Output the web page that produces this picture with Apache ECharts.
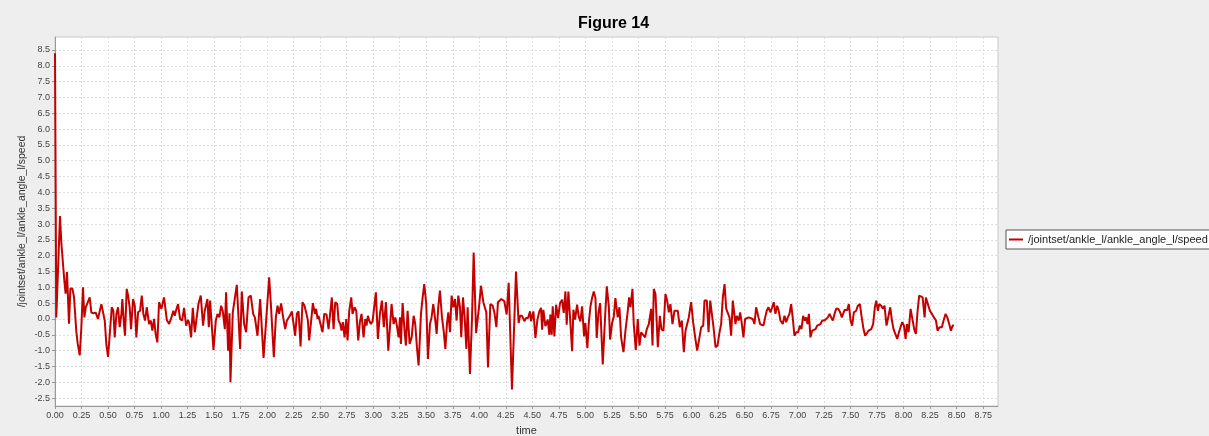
<!DOCTYPE html>
<html><head><meta charset="utf-8">
<script src="https://cdn.jsdelivr.net/npm/echarts@6/dist/echarts.min.js"></script>
<style>html,body{margin:0;padding:0;background:#eeeeee;} #c{width:1209px;height:436px;}</style>
</head><body><div id="c"></div>
<script>
const titleText = 'Figure 14';
const seriesName = '/jointset/ankle_l/ankle_angle_l/speed';
const xName = 'time';
const yName = '/jointset/ankle_l/ankle_angle_l/speed';

const times = [
0.000,0.012,0.047,0.060,0.088,0.100,0.113,0.132,0.145,0.164,0.179,0.201,0.214,0.233,0.248,0.264,
0.277,0.290,0.307,0.327,0.343,0.362,0.384,0.405,0.421,0.437,0.453,0.469,0.484,0.500,0.516,0.535,0.550,0.563,0.579,0.594,0.610,0.626,0.635,0.651,0.660,0.676,0.689,0.704,0.717,0.736,0.752,0.767,0.783,0.802,0.818,0.833,0.849,0.865,0.887,0.903,0.918,0.934,0.950,
0.965,0.981,1.003,1.028,1.054,1.076,1.098,1.116,1.129,1.142,1.160,1.179,1.198,1.217,1.236,1.255,1.267,1.283,1.299,1.318,1.333,1.352,1.374,1.396,1.412,1.437,1.450,1.462,1.494,1.516,1.532,1.550,1.566,1.582,1.601,1.613,1.632,1.645,1.654,1.676,1.714,1.745,1.761,1.783,1.802,1.824,1.846,1.868,1.884,1.909,1.934,1.966,2.019,
2.035,2.063,2.082,2.098,2.113,2.132,2.151,2.170,2.186,2.201,2.214,2.233,2.249,2.264,2.280,2.296,2.315,2.333,2.352,2.371,2.384,2.396,2.415,2.431,2.450,2.462,2.475,2.484,2.503,2.522,2.538,2.560,2.579,2.595,2.610,2.626,2.642,2.661,2.673,2.689,2.701,2.714,2.730,2.745,2.758,2.774,2.793,2.805,2.824,2.840,2.859,2.874,2.890,2.909,2.925,2.937,2.950,2.962,2.978,2.994,3.010,3.025,3.044,3.063,3.082,3.100,3.120,
3.142,3.173,3.192,3.208,3.223,3.239,3.252,3.261,3.277,3.293,3.308,3.324,3.343,3.362,3.381,3.396,3.412,3.428,3.450,3.466,3.481,3.500,3.516,3.535,3.550,3.566,3.582,3.598,3.613,3.629,3.648,3.664,3.680,3.695,3.708,3.724,3.739,3.755,3.771,3.786,3.802,3.818,3.830,3.846,3.862,3.878,3.890,3.912,3.931,3.947,3.970,3.997,4.016,4.038,4.054,4.066,4.082,4.104,4.126,4.142,4.161,4.176,4.192,4.208,
4.222,4.236,4.258,4.277,4.308,4.346,4.371,4.384,4.403,4.425,4.441,4.460,4.478,4.488,4.510,4.529,4.548,4.566,4.582,4.592,4.604,4.623,4.645,4.661,4.670,4.683,4.692,4.708,4.724,4.743,4.761,4.780,4.796,4.812,4.824,4.840,4.859,4.875,4.887,4.903,4.922,4.937,4.953,4.969,4.988,5.000,5.019,5.032,5.048,5.063,5.079,5.095,5.107,5.123,5.139,5.164,5.186,5.202,5.221,5.233,5.252,5.268,5.283,
5.305,5.321,5.337,5.359,5.378,5.400,5.412,5.425,5.444,5.456,5.475,5.494,5.510,5.526,5.541,5.563,5.579,5.598,5.620,5.633,5.645,5.661,5.683,5.702,5.717,5.736,5.755,5.771,5.787,5.802,5.821,5.840,5.856,5.871,5.890,5.909,5.928,5.944,5.960,5.975,5.997,6.016,6.035,6.054,6.073,6.092,6.111,6.123,6.145,6.161,6.177,6.192,6.208,6.227,6.246,6.262,6.280,6.296,6.312,6.328,6.343,6.359,6.374,6.390,
6.415,6.427,6.446,6.459,6.471,6.490,6.506,6.522,6.540,6.556,6.578,6.594,6.610,6.632,6.647,6.663,6.679,6.695,6.710,6.726,6.745,6.761,6.776,6.792,6.808,6.823,6.839,6.861,6.877,6.893,6.908,6.924,6.940,6.956,6.971,6.987,7.006,7.022,7.037,7.053,7.069,7.081,7.094,7.107,7.122,7.138,7.154,7.170,7.185,7.201,7.217,7.232,7.254,7.270,7.286,7.302,7.317,7.333,7.349,7.364,7.383,7.402,7.418,7.430,
7.443,7.468,7.484,7.500,7.515,7.531,7.553,7.569,7.588,7.603,7.622,7.638,7.654,7.669,7.695,7.713,7.729,7.742,7.758,7.770,7.789,7.805,7.820,7.839,7.855,7.874,7.890,7.905,7.921,7.940,7.956,7.971,7.987,8.003,8.019,8.031,8.047,8.066,8.081,8.100,8.116,8.132,8.147,8.163,8.179,8.198,8.210,8.229,8.248,8.267,8.286,8.305,8.320,8.339,8.361,8.377,8.396,8.412,8.430,8.446,8.462,8.475
];

const values = [
8.40,0.05,3.25,2.40,1.20,0.80,1.48,-0.15,0.96,0.96,0.70,-0.40,-0.78,-1.15,-0.30,1.00,
0.05,0.37,0.37,0.68,0.20,0.18,0.20,0.00,-0.05,0.47,0.42,-0.05,-0.80,-1.20,-0.50,0.37,0.26,-0.58,0.16,0.37,-0.26,0.16,0.63,-0.21,-0.53,0.95,0.74,0.37,-0.32,0.63,0.42,-0.58,0.21,0.26,0.74,0.16,-0.05,0.37,-0.16,-0.05,-0.37,0.00,-0.50,
-0.74,0.53,0.32,0.68,-0.03,-0.16,0.05,0.26,0.10,0.28,0.47,0.00,-0.05,0.35,-0.21,-0.03,-0.16,-0.58,0.35,-0.42,-0.42,0.47,0.74,-0.21,0.26,0.63,-0.26,0.58,-0.98,-0.05,0.16,0.05,0.42,0.24,-0.32,0.84,-1.00,0.18,-2.00,0.21,1.08,-0.95,0.87,-0.16,-0.42,0.68,0.74,0.16,0.05,-0.53,0.63,-1.23,1.32,
0.47,-1.21,0.05,0.42,0.16,0.49,0.05,-0.32,-0.05,-0.10,0.10,0.24,0.21,-0.53,0.16,0.24,-0.87,0.53,0.42,0.16,-0.05,-0.68,-0.05,0.50,0.16,0.32,0.00,0.10,-0.16,-0.42,0.16,0.14,-0.32,0.21,0.68,-0.32,0.53,0.47,-0.05,-0.16,-0.37,-0.10,-0.58,0.00,-0.68,0.26,0.68,0.16,0.37,0.26,-0.68,-0.10,0.16,-0.58,0.00,-0.21,0.10,-0.05,-0.16,-0.07,-0.10,0.84,-0.63,0.16,0.58,-0.26,0.53,
-1.00,0.47,-0.16,0.05,-0.21,-0.58,0.05,-0.79,0.50,-0.26,-0.84,0.26,-0.79,-0.58,0.10,-0.16,-0.89,-1.47,0.16,0.68,1.10,0.47,-1.26,-0.16,0.05,0.47,0.05,-0.47,0.37,0.90,0.05,-0.37,-0.95,-0.16,0.21,-0.42,0.74,0.37,0.63,-0.05,0.74,0.37,-0.58,0.68,0.05,-0.95,0.37,-1.74,0.00,2.10,-0.45,0.37,1.05,0.53,0.58,0.21,-1.53,0.47,0.42,0.21,-0.26,0.53,0.47,0.63,
0.66,0.56,0.14,1.14,-2.23,1.50,-0.13,0.10,0.10,-0.07,0.03,0.03,0.24,-0.07,0.24,-0.60,-0.02,0.24,0.35,-0.34,0.29,-0.23,-0.02,-0.50,0.14,-0.50,0.40,-0.55,0.45,0.03,0.50,0.61,0.19,0.87,-0.18,0.87,-0.13,-1.02,0.29,-0.02,0.45,0.08,-0.08,0.40,-0.55,-0.13,-0.92,-0.13,0.40,0.66,0.87,0.66,-0.60,0.19,0.50,-1.44,0.08,1.03,0.40,-0.65,-0.13,0.08,0.66,
0.05,0.37,-0.58,-1.05,-0.37,0.26,0.68,0.37,0.95,-0.16,-0.98,0.00,-0.84,-0.42,-0.37,-0.58,-0.32,-0.16,0.32,-0.84,0.95,0.79,-0.89,0.10,-0.32,-0.37,0.79,0.58,0.21,0.47,-0.16,0.26,0.21,0.26,-0.26,-0.05,-1.05,-0.37,-0.42,0.05,0.53,-0.10,-0.58,-1.00,-0.63,-0.26,-0.21,0.58,0.58,-0.42,0.58,0.53,-0.26,-0.89,-0.84,-0.47,-0.16,0.68,1.10,0.32,0.37,0.05,-0.53,0.58,
-0.16,0.10,-0.05,0.21,-0.05,-0.58,0.00,0.05,0.05,0.05,0.00,-0.16,0.37,0.05,-0.16,-0.10,-0.21,0.05,0.26,0.37,0.21,0.37,0.53,0.16,0.42,0.26,-0.05,-0.16,0.10,-0.10,0.05,0.16,0.47,0.00,-0.53,-0.42,-0.42,-0.21,-0.32,0.10,-0.05,0.05,-0.16,0.16,-0.58,-0.37,-0.37,-0.32,-0.21,-0.26,-0.16,-0.05,-0.05,0.00,0.05,0.16,0.05,-0.05,0.16,0.32,0.32,0.21,0.05,0.16,
0.28,0.28,0.47,-0.05,-0.21,0.21,0.26,0.42,0.47,0.10,-0.32,-0.53,-0.58,-0.37,-0.32,-0.16,0.37,0.58,0.26,0.47,0.42,0.32,0.42,-0.21,0.05,0.37,-0.05,-0.32,-0.32,-0.63,-0.42,-0.42,-0.10,-0.21,-0.63,-0.16,-0.42,0.32,0.32,-0.32,-0.47,0.26,0.74,0.68,0.68,0.05,0.68,0.47,0.26,0.16,0.05,-0.05,-0.37,-0.26,-0.26,-0.05,0.16,0.05,-0.16,-0.37,-0.21,-0.21
];

const xTicks = [0,0.25,0.5,0.75,1,1.25,1.5,1.75,2,2.25,2.5,2.75,3,3.25,3.5,3.75,4,4.25,4.5,4.75,5,5.25,5.5,5.75,6,6.25,6.5,6.75,7,7.25,7.5,7.75,8,8.25,8.5,8.75];
const yTicks = [-2.5,-2,-1.5,-1,-0.5,0,0.5,1,1.5,2,2.5,3,3.5,4,4.5,5,5.5,6,6.5,7,7.5,8,8.5];

const FONT = '"Liberation Sans", Arial, sans-serif';
const data = times.map((t, i) => [t, values[i]]);
const chart = echarts.init(document.getElementById('c'), null, {renderer: 'canvas'});
chart.setOption({
  animation: false,
  backgroundColor: '#eeeeee',
  title: {
    text: titleText, left: 573, top: 11,
    textStyle: {fontFamily: FONT, fontSize: 16, fontWeight: 'bold', color: '#000'}
  },
  legend: {
    data: [seriesName], left: 1006, top: 230, orient: 'vertical',
    backgroundColor: '#ffffff', borderColor: '#555555', borderWidth: 1, borderRadius: 0,
    padding: [4, 4, 4, 3], itemWidth: 14, itemHeight: 2, icon: 'rect', itemGap: 0,
    textStyle: {fontFamily: FONT, fontSize: 11, color: '#222'}
  },
  grid: {
    left: 55, right: 211, top: 37, bottom: 30, show: true,
    outerBoundsMode: 'none', containLabel: false,
    backgroundColor: '#ffffff', borderColor: '#c8c8c8', borderWidth: 1
  },
  xAxis: {
    type: 'value', min: 0, max: 8.89,
    name: xName, nameLocation: 'middle', nameGap: 19, nameMoveOverlap: false,
    nameTextStyle: {fontFamily: FONT, fontSize: 11, color: '#333'},
    axisLine: {show: true, onZero: false, lineStyle: {color: '#999'}},
    axisTick: {show: true, length: 3, customValues: xTicks, lineStyle: {color: '#999'}},
    axisLabel: {customValues: xTicks, formatter: v => v.toFixed(2), fontFamily: FONT, fontSize: 9, color: '#444', margin: 5},
    splitLine: {show: true, lineStyle: {color: '#dddddd', type: [2, 2], width: 1}}
  },
  yAxis: {
    type: 'value', min: -2.75, max: 8.91,
    name: yName, nameLocation: 'middle', nameGap: 27, nameRotate: 90, nameMoveOverlap: false,
    nameTextStyle: {fontFamily: FONT, fontSize: 10.5, color: '#333'},
    axisLine: {show: true, onZero: false, lineStyle: {color: '#999'}},
    axisTick: {show: true, length: 3, customValues: yTicks, lineStyle: {color: '#999'}},
    axisLabel: {customValues: yTicks, formatter: v => v.toFixed(1), fontFamily: FONT, fontSize: 9, color: '#444', margin: 5},
    splitLine: {show: true, lineStyle: {color: '#dddddd', type: [2, 2], width: 1}}
  },
  series: [{
    name: seriesName, type: 'line', data: data,
    showSymbol: false, symbol: 'none',
    lineStyle: {color: '#c40000', width: 2},
    itemStyle: {color: '#c40000'}
  }]
});
</script>
</body></html>
